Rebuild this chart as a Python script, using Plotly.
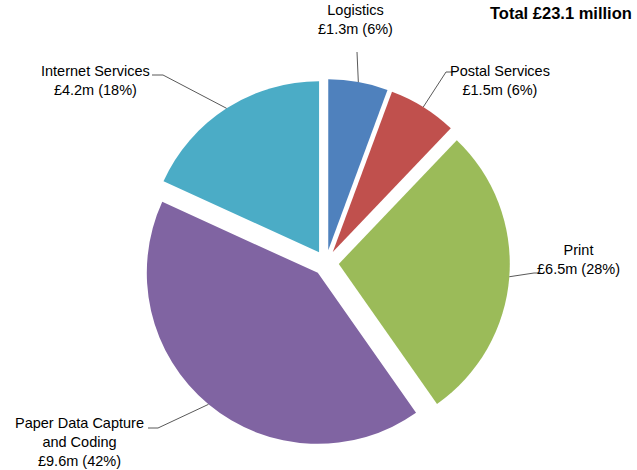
import math
import plotly.graph_objects as go

# Spend by service area (£ million)
categories = ["Logistics", "Postal Services", "Print", "Paper Data Capture<br>and Coding", "Internet Services"]
values = [1.3, 1.5, 6.5, 9.6, 4.2]
percent_labels = ["6%", "6%", "28%", "42%", "18%"]
colors = ["#4F81BD", "#C0504D", "#9BBB59", "#8064A2", "#4BACC6"]
total_label = "Total £23.1 million"

W, H = 637, 470
CX, CY = 326, 263          # pie centre, pixels from top-left
R = 171                    # pie radius, pixels
PULL = 0.075               # explode fraction of radius

half = R * (1 + PULL)
domain_x = [(CX - half) / W, (CX + half) / W]
domain_y = [1 - (CY + half) / H, 1 - (CY - half) / H]

fig = go.Figure(go.Pie(
    labels=[c.replace("<br>", " ") for c in categories],
    values=values,
    sort=False,
    direction="clockwise",
    rotation=0,
    pull=[PULL] * len(values),
    marker=dict(colors=colors, line=dict(width=0)),
    textinfo="none",
    hoverinfo="label+value+percent",
    showlegend=False,
    domain=dict(x=domain_x, y=domain_y),
))


def px(x):
    return x / W


def py(y):
    return 1 - y / H


# label text anchors (pixels) and the text-side end of each leader line
label_pos = [(355, 20), (500, 81), (578, 259), (79, 442), (95, 80)]
leader_text_end = [
    [(357, 52)],
    [(446, 72), (452, 72)],
    [(534, 273), (541, 273)],
    [(158, 428), (148, 428)],
    [(163, 75), (152, 75)],
]

label_font = dict(family="Liberation Sans, Arial, sans-serif", size=14.5, color="#000000")

total = sum(values)
cum = 0.0
shapes = []
annotations = []
for i, v in enumerate(values):
    mid = (cum + v / 2) / total * 2 * math.pi
    cum += v
    sx, sy = math.sin(mid), -math.cos(mid)
    ox, oy = CX + PULL * R * sx, CY + PULL * R * sy
    edge = (ox + R * sx, oy + R * sy)
    pts = [edge] + leader_text_end[i]
    for a, b in zip(pts[:-1], pts[1:]):
        shapes.append(dict(type="line", xref="paper", yref="paper",
                           x0=px(a[0]), y0=py(a[1]), x1=px(b[0]), y1=py(b[1]),
                           line=dict(color="#595959", width=1)))
    lx, ly = label_pos[i]
    annotations.append(dict(
        x=px(lx), y=py(ly), xref="paper", yref="paper",
        text=f"{categories[i]}<br>£{v}m ({percent_labels[i]})",
        showarrow=False, xanchor="center", yanchor="middle", align="center",
        font=label_font,
    ))

annotations.append(dict(
    x=px(634), y=py(13), xref="paper", yref="paper",
    text=f"<b>{total_label}</b>", showarrow=False,
    xanchor="right", yanchor="middle",
    font=dict(family="Liberation Sans, Arial, sans-serif", size=16.5, color="#000000"),
))

fig.update_layout(
    width=W, height=H,
    margin=dict(l=0, r=0, t=0, b=0),
    paper_bgcolor="white", plot_bgcolor="white",
    shapes=shapes, annotations=annotations,
)

fig.write_html("out.html")
